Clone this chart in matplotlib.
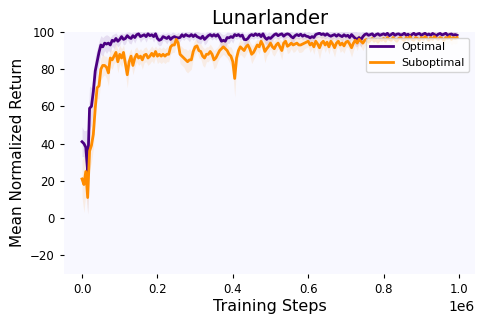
"""
Lunarlander: mean normalized return vs training steps for an agent trained on
optimal vs suboptimal demonstrations. Shaded bands show the spread per step.
"""
import numpy as np
import matplotlib
matplotlib.use("Agg")
import matplotlib.pyplot as plt

STEP = 5000  # evaluation interval in training steps

OPTIMAL = [
    41, 40, 38, 25, 59, 60, 68, 79, 84, 89,
    93, 92, 94, 93.5, 94, 93, 95.5, 95, 96.5, 95,
    96, 97.5, 96, 96.5, 98, 97, 96.5, 98, 97, 98.5,
    99, 97.5, 98, 98.5, 97.5, 99, 98, 98.5, 97.5, 99,
    96.5, 95.5, 96, 97.5, 97, 96.5, 97.5, 96, 97, 97.5,
    97, 96.8, 97, 98.5, 97.5, 98.6, 98, 97.7, 98.6, 97.5,
    98.5, 97.5, 97, 96.5, 97.7, 96, 97, 98, 98.6, 97.7,
    98.6, 97.7, 98.6, 97, 95, 95.5, 95, 97, 96.8, 97.5,
    97, 98.6, 98, 98.6, 97.7, 98.3, 96, 95.8, 96.5, 98,
    98.6, 98, 99, 98.2, 98.8, 97.5, 99, 97, 96, 97,
    96.5, 97.5, 98.5, 99, 98, 98.6, 99, 97.7, 98.6, 99,
    98.6, 97.5, 96.8, 98, 98.6, 98, 98.8, 97.7, 98.4, 97.7,
    97.5, 96.8, 97.5, 97, 98.6, 99, 99.3, 98.6, 99, 98.2,
    99, 98.2, 97.7, 98.2, 98.6, 97.7, 98.6, 98, 97.5, 98.5,
    97.7, 98.2, 97, 98.6, 97.5, 96.5, 96, 97, 95.8, 97.5,
    98.6, 99, 98.2, 98.6, 99, 97.7, 98.6, 99, 98.2, 98.6,
    99, 98.4, 99.3, 98, 98.6, 99.3, 98.2, 98.8, 99, 98.3,
    98.6, 99.3, 98.2, 98.8, 97.7, 98.6, 99.3, 98.4, 98.9, 99.2,
    98.2, 98.8, 99.3, 98.3, 98.9, 98.2, 99.2, 98.6, 98, 98.8,
    99.2, 98.4, 98.8, 99.3, 98.2, 98.6, 98.9, 98.3, 98.6, 98.2,
]
OPTIMAL_STD = [
    8, 7, 9, 23, 12, 10, 9, 8, 7, 6,
    5, 5, 4, 5, 4, 4, 3, 4, 3, 3,
    3, 2, 3, 3, 2, 3, 3, 2, 3, 2,
    2, 3, 2, 2, 3, 2, 2, 2, 3, 2,
    3, 3, 3, 2, 2, 3, 2, 3, 3, 2,
    2, 3, 2, 2, 2, 2, 2, 3, 2, 2,
    2, 3, 3, 3, 2, 3, 3, 2, 2, 2,
    2, 2, 2, 3, 4, 3, 4, 3, 3, 2,
    3, 2, 2, 2, 2, 2, 3, 3, 3, 2,
    2, 2, 2, 2, 2, 3, 2, 3, 3, 3,
    3, 2, 2, 2, 2, 2, 2, 3, 2, 2,
    2, 3, 3, 2, 2, 2, 2, 2, 2, 2,
    3, 3, 2, 3, 2, 2, 2, 2, 2, 2,
    2, 2, 3, 2, 2, 3, 2, 2, 3, 2,
    3, 2, 3, 2, 3, 4, 4, 3, 4, 3,
    2, 2, 2, 2, 2, 2, 2, 2, 2, 2,
    2, 2, 2, 2, 2, 2, 2, 2, 2, 2,
    2, 2, 2, 2, 3, 2, 2, 2, 2, 2,
    2, 2, 2, 2, 2, 2, 2, 2, 2, 2,
    2, 2, 2, 2, 2, 2, 2, 2, 2, 2,
]
SUBOPTIMAL = [
    21, 18, 25, 11, 36, 39, 45, 59, 70, 71,
    80, 82, 82, 81, 78, 86, 85, 87, 89, 84,
    88, 86, 89, 83, 77, 84, 87, 82, 86, 88,
    86, 87, 85, 87.5, 88, 86, 87, 88.5, 87, 89.5,
    87, 88, 87, 88, 87, 88, 88, 92, 93, 93,
    96, 94, 88, 87, 86, 85, 84, 85, 85, 89.5,
    92, 92.5, 90, 89.5, 87, 86, 88, 88, 89.5, 88,
    85, 86, 88, 90, 91, 92, 91, 90, 88, 87,
    84, 75, 86, 90, 92, 91, 90, 92, 93, 91,
    88, 89, 91, 93, 92, 95, 93, 89.5, 91, 92.3,
    94, 92, 91, 93, 94, 92, 90, 94, 95, 92.3,
    93, 94, 93, 93.5, 94, 93, 93, 93.5, 94, 94.5,
    95, 93, 94, 92, 95, 93.5, 91.5, 94, 95, 93,
    94.5, 92, 95, 93.5, 91.5, 94, 95, 93, 94, 92.5,
    94.5, 95, 93.5, 91.5, 94, 95.5, 94, 96, 95, 94,
    95.5, 96, 94.5, 95.5, 96.5, 95, 96, 94.5, 96, 95.5,
    96.5, 95, 97, 96, 95.5, 97, 96, 95, 96.5, 97,
    96, 95.5, 97, 96, 97.5, 96, 95.5, 97, 96.5, 95.5,
    97, 96, 97.5, 96.5, 95.5, 97, 96, 97.5, 96.5, 96,
    97, 96.5, 95.5, 97, 96.5, 97.5, 96, 97, 96.5, 97,
]
SUBOPTIMAL_STD = [
    10, 15, 12, 9, 10, 9, 8, 7, 6, 7,
    6, 6, 5, 6, 7, 5, 5, 4, 5, 6,
    5, 5, 4, 5, 7, 5, 4, 5, 5, 4,
    4, 4, 5, 4, 4, 4, 4, 4, 4, 3,
    4, 4, 4, 4, 4, 4, 4, 4, 4, 4,
    3, 4, 5, 5, 5, 6, 6, 6, 5, 4,
    4, 3, 4, 4, 5, 5, 4, 4, 4, 4,
    5, 5, 4, 4, 4, 4, 4, 4, 4, 5,
    6, 10, 5, 4, 4, 4, 4, 4, 3, 4,
    5, 4, 4, 3, 4, 3, 4, 6, 4, 4,
    3, 4, 4, 4, 3, 4, 5, 3, 3, 4,
    4, 3, 4, 4, 3, 4, 4, 4, 3, 3,
    3, 4, 3, 4, 3, 4, 6, 4, 3, 4,
    3, 4, 3, 4, 5, 3, 3, 4, 4, 4,
    3, 3, 4, 5, 4, 3, 4, 3, 3, 4,
    3, 3, 4, 3, 3, 3, 3, 4, 3, 3,
    3, 3, 3, 3, 3, 3, 3, 3, 3, 3,
    3, 3, 3, 3, 3, 3, 3, 3, 3, 3,
    3, 3, 3, 3, 3, 3, 3, 3, 3, 3,
    3, 3, 3, 3, 3, 3, 3, 3, 3, 3,
]

SERIES = [
    ("Optimal", OPTIMAL, OPTIMAL_STD, "#4B0082"),
    ("Suboptimal", SUBOPTIMAL, SUBOPTIMAL_STD, "#FF8C00"),
]


def main():
    fig = plt.figure(figsize=(4.88, 3.26), dpi=100)
    ax = fig.add_axes([0.131, 0.16, 0.842, 0.742])
    ax.set_facecolor("#F8F8FF")

    for label, mean, std, color in SERIES:
        mean = np.asarray(mean, dtype=float)
        std = np.asarray(std, dtype=float)
        steps = np.arange(len(mean)) * STEP
        ax.fill_between(steps, mean - std, mean + std, color=color,
                        alpha=0.1, linewidth=0)
        ax.plot(steps, mean, color=color, linewidth=2, label=label)

    ax.set_xlim(-0.048e6, 1.042e6)
    ax.set_ylim(-30, 100)
    ax.set_yticks([-20, 0, 20, 40, 60, 80, 100])
    for side in ("top", "right", "bottom", "left"):
        ax.spines[side].set_visible(False)
    ax.tick_params(labelsize=8.5, length=3)

    ax.set_title("Lunarlander", fontsize=14)
    ax.set_xlabel("Training Steps", fontsize=11.5, labelpad=2)
    ax.set_ylabel("Mean Normalized Return", fontsize=11)
    ax.legend(loc="upper right", fontsize=8)

    fig.savefig("out.png", dpi=100)
    plt.close(fig)


if __name__ == "__main__":
    main()
